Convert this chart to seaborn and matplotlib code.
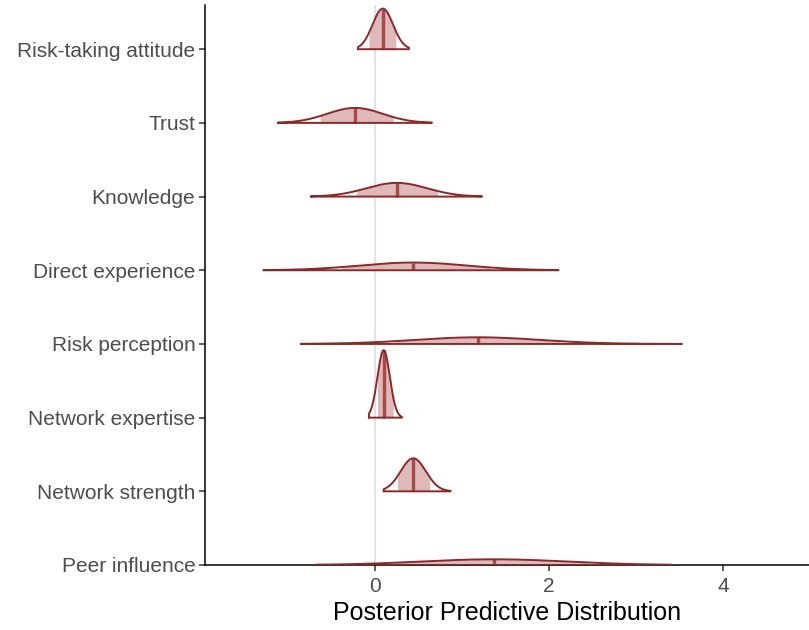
import numpy as np
import pandas as pd
import matplotlib
matplotlib.use("Agg")
import matplotlib.pyplot as plt
import seaborn as sns

# Posterior summaries per predictor (top to bottom)
params = ["Risk-taking attitude", "Trust", "Knowledge", "Direct experience",
          "Risk perception", "Network expertise", "Network strength", "Peer influence"]
medians = [0.09, -0.23, 0.25, 0.44, 1.18, 0.10, 0.44, 1.37]
sds = [0.118, 0.32, 0.35, 0.62, 0.72, 0.071, 0.145, 0.84]
inner_lo = [-0.07, -0.63, -0.21, -0.38, 0.23, 0.03, 0.26, 0.21]
inner_hi = [0.24, 0.21, 0.72, 1.32, 2.13, 0.21, 0.63, 2.45]
outer_lo = [-0.195, -1.115, -0.736, -1.28, -0.85, -0.07, 0.10, -0.69]
outer_hi = [0.39, 0.655, 1.23, 2.11, 3.53, 0.31, 0.87, 3.41]

DENS_SCALE = 0.163
C_DARK = "#8F2727"
C_FILL = "#DDB9B9"
C_MED = "#A84848"

sns.set_theme(style="ticks")
plt.rcParams["font.family"] = ["Liberation Sans", "DejaVu Sans"]

fig = plt.figure(figsize=(8.09, 6.30), dpi=100)
ax = fig.add_axes([205 / 809, 65 / 630, 604 / 809, 560 / 630])

n = len(params)
ypos = np.arange(n)[::-1].astype(float)

ax.axvline(0, color="#e3e3e3", lw=1.5, zorder=0)


def dens(x, m, s):
    return DENS_SCALE * np.exp(-0.5 * ((x - m) / s) ** 2) / (s * np.sqrt(2 * np.pi))


for i in range(n):
    y0 = ypos[i]
    m, s = medians[i], sds[i]
    # inner (shaded) interval
    xi = np.linspace(inner_lo[i], inner_hi[i], 300)
    ax.fill_between(xi, y0, y0 + dens(xi, m, s), color=C_FILL, lw=0, zorder=2)
    # median line
    ax.plot([m, m], [y0, y0 + dens(m, m, s)], color=C_MED, lw=2.4,
            solid_capstyle="butt", zorder=3)
    # outer outline, closed with the baseline
    xo = np.linspace(outer_lo[i], outer_hi[i], 400)
    yo = y0 + dens(xo, m, s)
    outline = pd.DataFrame({
        "x": np.concatenate([[xo[0]], xo, [xo[-1], xo[0]]]),
        "y": np.concatenate([[y0], yo, [y0, y0]]),
    })
    sns.lineplot(data=outline, x="x", y="y", sort=False, estimator=None,
                 color=C_DARK, lw=1.4, ax=ax, zorder=4)

ax.set_xlim(-1.954, 4.99)
ax.set_ylim(0, 7.6)
ax.set_yticks(ypos)
ax.set_yticklabels(params)
ax.set_xticks([0, 2, 4])
ax.set_xticklabels(["0", "2", "4"])
ax.set_ylabel("")
ax.set_xlabel("Posterior Predictive Distribution", fontsize=18, color="black", labelpad=3)
ax.tick_params(axis="both", labelsize=15, labelcolor="#4d4d4d", color="#333333",
               length=4, width=1.1)
ax.tick_params(axis="x", pad=5)
ax.tick_params(axis="y", pad=3)
for side in ["left", "bottom"]:
    ax.spines[side].set_color("black")
    ax.spines[side].set_linewidth(1.1)
sns.despine(ax=ax)

fig.savefig("out.png", dpi=100)
